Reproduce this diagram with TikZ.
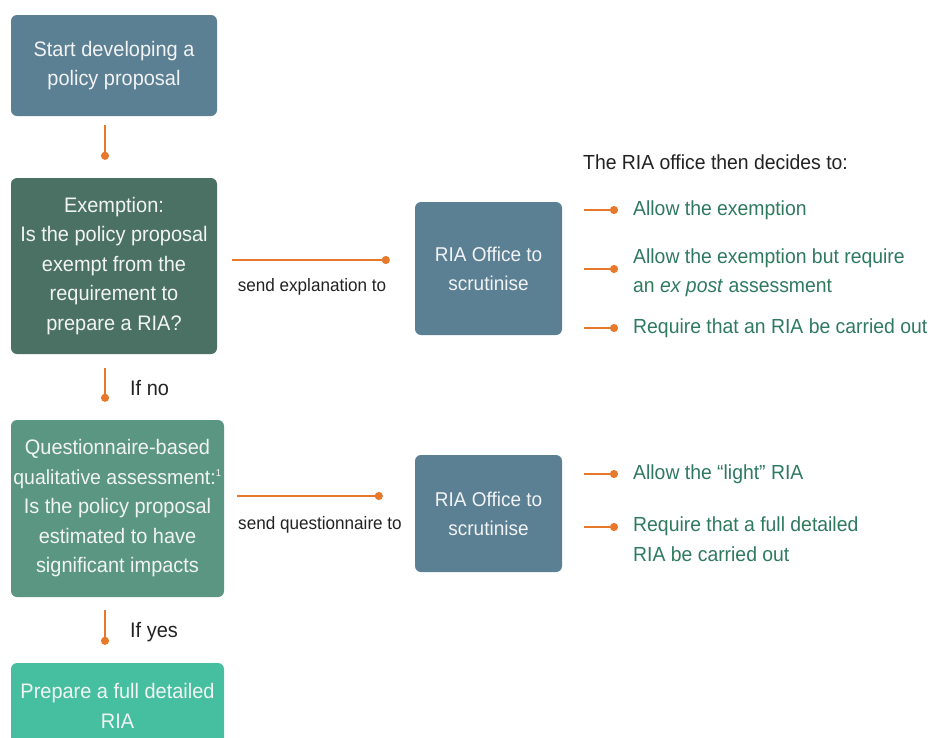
\documentclass[tikz,border=0pt]{standalone}
\usepackage{fontspec}
\setmainfont{Liberation Sans}[FakeStretch=0.95]
\usetikzlibrary{arrows.meta,calc}
\definecolor{slate}{HTML}{5B7F93}
\definecolor{darkgreen}{HTML}{4B7165}
\definecolor{midgreen}{HTML}{5A9682}
\definecolor{teal}{HTML}{46BFA0}
\definecolor{boxtext}{HTML}{F2F4F4}
\definecolor{orng}{HTML}{E8792B}
\definecolor{optgreen}{HTML}{2F7A5F}
\definecolor{lbl}{HTML}{222222}
\begin{document}
\begin{tikzpicture}[x=1pt,y=-1pt,
  box/.style={rounded corners=6pt, align=center, text=boxtext, inner sep=0pt,
    font=\fontsize{21}{29.5}\selectfont},
  riabox/.style={box, fill=slate, minimum width=147pt, font=\fontsize{20}{29}\selectfont},
  conn/.style={draw=orng, line width=2pt, -{Circle[length=8pt,width=8pt]}},
  lab/.style={text=lbl, inner sep=0pt},
  opt/.style={text=optgreen, inner sep=0pt, align=left, anchor=west,
    font=\fontsize{20.4}{29.5}\selectfont},
  ]
\useasboundingbox (0,0) rectangle (934,737);
\clip (0,0) rectangle (934,737);

% left column
\node[box, fill=slate, minimum width=206pt, minimum height=101pt] (start) at (114,65.5)
  {Start developing a\\policy proposal};
\node[box, fill=darkgreen, minimum width=206pt, minimum height=176pt] (exempt) at (114,266)
  {Exemption:\\Is the policy proposal\\exempt from the\\requirement to\\prepare a RIA?};
\node[box, fill=midgreen, minimum width=213pt, minimum height=177pt] (quest) at (117.5,508.5)
  {Questionnaire-based\\{\fontsize{20.5}{29.5}\selectfont qualitative assessment:\textsuperscript{\fontsize{10}{10}\selectfont 1}}\\Is the policy proposal\\estimated to have\\significant impacts};
\node[box, fill=teal, minimum width=213pt, minimum height=86pt] (prep) at (117.5,706)
  {Prepare a full detailed\\RIA};

% vertical connectors
\coordinate (a1) at ($(start.south)+(-9,9)$);
\coordinate (a2) at ($(exempt.north)+(-9,-18)$);
\draw[conn] (a1) -- (a2);
\coordinate (b1) at ($(exempt.south)+(-9,14)$);
\coordinate (b2) at ($(quest.north)+(-12.5,-18)$);
\draw[conn] (b1) -- (b2);
\node[lab, anchor=west, font=\fontsize{21}{25}\selectfont] (ifno) at (130,388) {If no};
\coordinate (c1) at ($(quest.south)+(-12.5,13)$);
\coordinate (c2) at ($(prep.north)+(-12.5,-18)$);
\draw[conn] (c1) -- (c2);
\node[lab, anchor=west, font=\fontsize{21}{25}\selectfont] (ifyes) at (130,632) {If yes};

% RIA office boxes
\node[riabox, minimum height=133pt] (ria1) at (488.5,268.5) {RIA Office to\\scrutinise};
\node[riabox, minimum height=117pt] (ria2) at (488.5,513.5) {RIA Office to\\scrutinise};

% horizontal connectors
\coordinate (d1) at ($(exempt.east)+(15,-6)$);
\coordinate (d2) at ($(ria1.west)+(-25,-8.5)$);
\draw[conn] (d1) -- (d2);
\node[lab, font=\fontsize{18}{22}\selectfont] (sendexp) at (312,287) {send explanation to};
\coordinate (e1) at ($(quest.east)+(13,-12.5)$);
\coordinate (e2) at ($(ria2.west)+(-32,-17.5)$);
\draw[conn] (e1) -- (e2);
\node[lab, font=\fontsize{18}{22}\selectfont] (sendq) at (320,525) {send questionnaire to};

% decisions
\node[lab, anchor=west, font=\fontsize{20.4}{24}\selectfont] (decides) at (583,162) {The RIA office then decides to:};

\node[opt] (o1) at (633,210) {Allow the exemption};
\node[opt] (o2) at (633,272.5) {Allow the exemption but require\\an \textit{ex post} assessment};
\node[opt] (o3) at (633,328) {Require that an RIA be carried out};
\node[opt] (o4) at (633,474) {Allow the “light” RIA};
\node[opt] (o5) at (633,539) {Require that a full detailed\\RIA be carried out};

\coordinate (f1) at (584,210);
\draw[conn] (f1) -- ($(o1.west)+(-15,0)$);
\coordinate (f2) at (584,269);
\draw[conn] (f2) -- ($(o2.west)+(-15,-3.5)$);
\coordinate (f3) at (584,328);
\draw[conn] (f3) -- ($(o3.west)+(-15,0)$);
\coordinate (f4) at (584,474);
\draw[conn] (f4) -- ($(o4.west)+(-15,0)$);
\coordinate (f5) at (584,527);
\draw[conn] (f5) -- ($(o5.west)+(-15,-12)$);
\end{tikzpicture}
\end{document}
